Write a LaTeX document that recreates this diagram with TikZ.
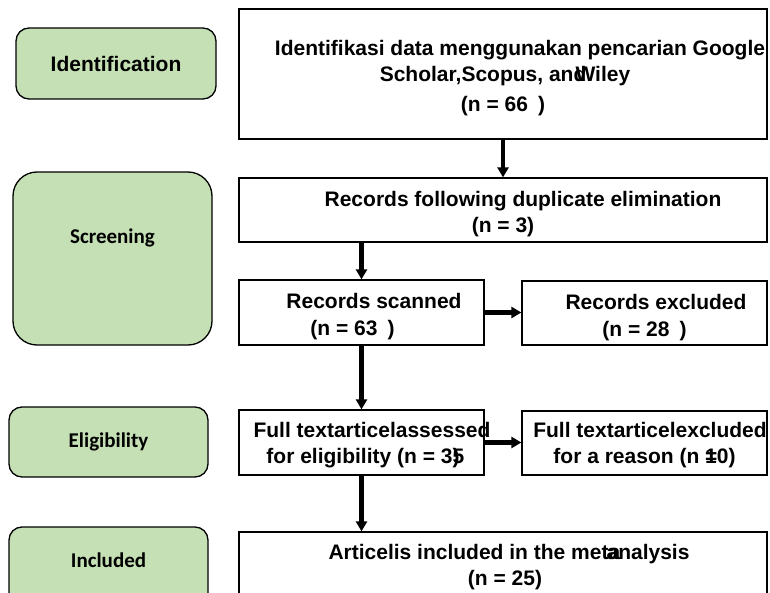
\documentclass[tikz,border=0pt]{standalone}
\usepackage{fontspec}
\setmainfont{Liberation Sans}
\newfontfamily\calibri{Carlito}
\usetikzlibrary{arrows.meta}
\definecolor{phase}{RGB}{197,224,180}
% one centred line, moved sideways by #1
\newcommand\shln[2]{\makebox[0pt]{\kern#1\relax#2\kern-#1\relax}}

\begin{document}
\begin{tikzpicture}[x=1pt,y=-1pt,
  flowbox/.style={draw=black, line width=1.3pt, fill=white, inner sep=0pt},
  flowtext/.style={inner sep=0pt, align=center,
    font=\fontsize{21}{26.5}\selectfont\bfseries},
  phasebox/.style={draw=black, line width=1.3pt, fill=phase,
    rounded corners=13pt, inner sep=0pt},
  phaselabel/.style={font=\fontsize{21}{26}\selectfont\calibri\bfseries},
  flow/.style={-{Triangle[width=11pt,length=10pt]}, line width=4.5pt}]
\useasboundingbox (0,0) rectangle (770,593);
\clip (0,0) rectangle (770,593);

% phase boxes on the left
\node[phasebox, minimum width=200pt, minimum height=71pt,
  font=\fontsize{21}{26}\selectfont\bfseries] (ident) at (116,63.5) {Identification};
\node[phasebox, rounded corners=24pt, minimum width=199pt, minimum height=173pt,
  label={[phaselabel,yshift=21pt]center:Screening}] (screen) at (112.5,258.5) {};
\node[phasebox, minimum width=199pt, minimum height=70pt, phaselabel] (elig) at (108.5,442) {Eligibility};
\node[phasebox, minimum width=199pt, minimum height=80pt,
  label={[phaselabel,yshift=7pt]center:Included}] (incl) at (108.5,567) {};

% flow boxes
\node[flowbox, minimum width=528pt, minimum height=130pt,
  label={[flowtext,yshift=-4pt]center:{%
    \shln{17pt}{Identifikasi data menggunakan pencarian Google}\\
    \shln{2pt}{Scholar,Scopus, an\rlap{d}\kern2pt Wiley}\\[3pt]
    \shln{0pt}{(n = 66\hspace{10pt})}}}] (found) at (503,74) {};
\node[flowbox, minimum width=528pt, minimum height=64pt,
  label={[flowtext,yshift=-4pt]center:{%
    \shln{20pt}{Records following duplicate elimination}\\
    \shln{0pt}{(n = 3)}}}] (dedup) at (503,210) {};
\node[flowbox, minimum width=245pt, minimum height=65pt,
  label={[flowtext,yshift=-4pt]center:{%
    \shln{12.5pt}{Records scanned}\\
    \shln{-9pt}{(n = 63\hspace{10pt})}}}] (scan) at (361.5,312.5) {};
\node[flowbox, minimum width=245pt, minimum height=64pt,
  label={[flowtext,yshift=-4.5pt]center:{%
    \shln{11.5pt}{Records excluded}\\
    \shln{0pt}{(n = 28\hspace{10pt})}}}] (excl) at (644.5,313) {};
\node[flowbox, minimum width=245pt, minimum height=65pt,
  label={[flowtext,yshift=-2.5pt]center:{%
    \shln{10.5pt}{Full textarticelassessed}\\
    \shln{1.5pt}{for eligibility (n = 3\rlap{5})}}}] (full) at (361.5,442.5) {};
\node[flowbox, minimum width=245pt, minimum height=64pt,
  label={[flowtext,yshift=-2pt]center:{%
    \shln{5.5pt}{Full textarticelexcluded}\\
    \shln{0pt}{for a reason (n \rlap{=}10)}}}] (fullx) at (644.5,443) {};
\node[flowbox, minimum width=528pt, minimum height=70pt,
  label={[flowtext]center:{%
    \shln{6pt}{Articelis included in the me\rlap{ta}\kern5pt analysis}\\
    \shln{2pt}{(n = 25)}}}] (meta) at (503,567) {};

% connectors
\draw[flow] (found.south) -- (dedup.north);
\draw[flow] (scan.north |- dedup.south) -- (scan.north);
\draw[flow] (scan.south) -- (full.north);
\draw[flow] (full.south) -- (full.south |- meta.north);
\draw[flow] (scan.east) -- (scan.east -| excl.west);
\draw[flow] (full.east) -- (full.east -| fullx.west);
\end{tikzpicture}
\end{document}
